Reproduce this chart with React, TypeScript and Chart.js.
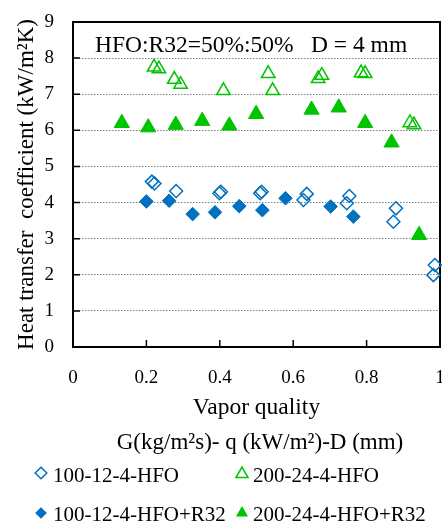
import React, { useEffect, useRef } from 'react';
import { Chart, registerables } from 'chart.js';

Chart.register(...registerables);

const FONT = "'Liberation Serif', 'Times New Roman', serif";
const BLUE = '#0070C0';
const GREEN = '#00C400';

// Series labels
const seriesLabels = ['100-12-4-HFO', '200-24-4-HFO', '100-12-4-HFO+R32', '200-24-4-HFO+R32'];
const legendTitle = 'G(kg/m\u00B2s)- q (kW/m\u00B2)-D (mm)';
const annotationLeft = 'HFO:R32=50%:50%';
const annotationRight = 'D = 4 mm';
const xTitle = 'Vapor quality';
const yTitle = 'Heat transfer  coefficient (kW/m\u00B2K)';

// Axis ticks
const xTicks = [0, 0.2, 0.4, 0.6, 0.8, 1];
const xTickLabels = ['0', '0.2', '0.4', '0.6', '0.8', '1'];
const yTicks = [0, 1, 2, 3, 4, 5, 6, 7, 8, 9];
const yTickLabels = ['0', '1', '2', '3', '4', '5', '6', '7', '8', '9'];

// 100-12-4-HFO (open diamonds)
const hfo100X = [0.215, 0.222, 0.281, 0.399, 0.403, 0.510, 0.514, 0.628, 0.637, 0.746, 0.753, 0.873, 0.880, 0.982, 0.986];
const hfo100Y = [4.58, 4.53, 4.32, 4.26, 4.30, 4.26, 4.30, 4.07, 4.24, 3.98, 4.18, 3.47, 3.84, 1.99, 2.27];

// 200-24-4-HFO (open triangles)
const hfo200X = [0.221, 0.234, 0.276, 0.293, 0.410, 0.532, 0.544, 0.668, 0.678, 0.785, 0.796, 0.918, 0.929];
const hfo200Y = [7.75, 7.70, 7.41, 7.27, 7.10, 7.57, 7.10, 7.43, 7.52, 7.59, 7.57, 6.21, 6.15];

// 100-12-4-HFO+R32 (filled diamonds)
const mix100X = [0.200, 0.262, 0.326, 0.387, 0.453, 0.516, 0.579, 0.702, 0.764];
const mix100Y = [4.03, 4.05, 3.68, 3.73, 3.90, 3.79, 4.12, 3.89, 3.61];

// 200-24-4-HFO+R32 (filled triangles)
const mix200X = [0.133, 0.205, 0.280, 0.352, 0.426, 0.499, 0.650, 0.724, 0.796, 0.868, 0.943];
const mix200Y = [6.20, 6.08, 6.15, 6.26, 6.13, 6.45, 6.57, 6.63, 6.20, 5.66, 3.10];

const toPoints = (xs: number[], ys: number[]) => xs.map((x, i) => ({ x, y: ys[i] }));

function drawMarker(ctx: CanvasRenderingContext2D, shape: string, x: number, y: number, r: number, color: string, filled: boolean) {
  ctx.beginPath();
  if (shape === 'diamond') {
    ctx.moveTo(x, y - r);
    ctx.lineTo(x + r, y);
    ctx.lineTo(x, y + r);
    ctx.lineTo(x - r, y);
  } else {
    ctx.moveTo(x, y - r);
    ctx.lineTo(x + r * 0.866, y + r / 2);
    ctx.lineTo(x - r * 0.866, y + r / 2);
  }
  ctx.closePath();
  if (filled) {
    ctx.fillStyle = color;
    ctx.fill();
  } else {
    ctx.strokeStyle = color;
    ctx.lineWidth = 1.5;
    ctx.stroke();
  }
}

const decorPlugin = {
  id: 'decor',
  beforeDatasetsDraw(chart: any) {
    const { ctx, chartArea: a, scales } = chart;
    ctx.save();
    ctx.strokeStyle = '#000';
    ctx.lineWidth = 2;
    ctx.strokeRect(a.left, a.top, a.right - a.left, a.bottom - a.top);
    ctx.lineWidth = 1.5;
    ctx.beginPath();
    yTicks.forEach((v) => {
      const py = scales.y.getPixelForValue(v);
      ctx.moveTo(a.left, py);
      ctx.lineTo(a.left + 7, py);
    });
    xTicks.forEach((v) => {
      const px = scales.x.getPixelForValue(v);
      ctx.moveTo(px, a.bottom);
      ctx.lineTo(px, a.bottom - 7);
    });
    ctx.stroke();
    ctx.restore();
  },
  afterDraw(chart: any) {
    const { ctx } = chart;
    ctx.save();
    ctx.fillStyle = '#000';
    ctx.textBaseline = 'alphabetic';
    // annotation
    ctx.font = `23.5px ${FONT}`;
    ctx.textAlign = 'left';
    ctx.fillText(annotationLeft, 95, 52);
    ctx.fillText(annotationRight, 311, 52);
    // legend title
    ctx.font = `23px ${FONT}`;
    ctx.textAlign = 'center';
    ctx.fillText(legendTitle, 260, 449);
    // legend items
    ctx.font = `21px ${FONT}`;
    ctx.textAlign = 'left';
    const items = [
      { label: seriesLabels[0], shape: 'diamond', color: BLUE, filled: false, mx: 41, my: 473, tx: 53, ty: 482 },
      { label: seriesLabels[1], shape: 'triangle', color: GREEN, filled: false, mx: 242, my: 474, tx: 253, ty: 482 },
      { label: seriesLabels[2], shape: 'diamond', color: BLUE, filled: true, mx: 41, my: 513, tx: 53, ty: 521 },
      { label: seriesLabels[3], shape: 'triangle', color: GREEN, filled: true, mx: 242, my: 513, tx: 253, ty: 521 },
    ];
    items.forEach((it) => {
      drawMarker(ctx, it.shape, it.mx, it.my, it.shape === 'diamond' ? 5.8 : 7, it.color, it.filled);
      ctx.fillStyle = '#000';
      ctx.fillText(it.label, it.tx, it.ty);
    });
    ctx.restore();
  },
};

export default function App() {
  const ref = useRef<HTMLCanvasElement | null>(null);

  useEffect(() => {
    document.body.style.margin = '0';
    if (!ref.current) return;
    const chart = new Chart(ref.current, {
      type: 'scatter',
      data: {
        datasets: [
          {
            label: seriesLabels[0],
            data: toPoints(hfo100X, hfo100Y),
            pointStyle: 'rectRot',
            pointRadius: 6.5,
            borderWidth: 1.5,
            borderColor: BLUE,
            backgroundColor: 'rgba(0,0,0,0)',
            clip: false,
          },
          {
            label: seriesLabels[1],
            data: toPoints(hfo200X, hfo200Y),
            pointStyle: 'triangle',
            pointRadius: 7.8,
            borderWidth: 1.5,
            borderColor: GREEN,
            backgroundColor: 'rgba(0,0,0,0)',
            clip: false,
          },
          {
            label: seriesLabels[2],
            data: toPoints(mix100X, mix100Y),
            pointStyle: 'rectRot',
            pointRadius: 6.8,
            borderWidth: 1,
            borderColor: BLUE,
            backgroundColor: BLUE,
            clip: false,
          },
          {
            label: seriesLabels[3],
            data: toPoints(mix200X, mix200Y),
            pointStyle: 'triangle',
            pointRadius: 8.8,
            borderWidth: 1,
            borderColor: GREEN,
            backgroundColor: GREEN,
            clip: false,
          },
        ] as any,
      },
      options: {
        animation: false,
        responsive: false,
        layout: { autoPadding: false, padding: { left: 0, right: 2, top: 22, bottom: 101 } },
        plugins: {
          legend: { display: false },
          tooltip: { enabled: false },
        },
        scales: {
          x: {
            type: 'linear',
            min: 0,
            max: 1,
            afterBuildTicks: (s: any) => {
              s.ticks = xTicks.map((v) => ({ value: v }));
            },
            afterFit: (s: any) => {
              s.height = 75;
              s.paddingLeft = 0;
              s.paddingRight = 0;
            },
            ticks: {
              callback: (_v: any, i: number) => xTickLabels[i],
              font: { family: FONT, size: 19 },
              color: '#000',
              padding: 20,
              maxRotation: 0,
            },
            grid: { display: false, drawTicks: false },
            border: { display: false },
            title: {
              display: true,
              text: xTitle,
              font: { family: FONT, size: 23.5 },
              color: '#000',
              padding: { top: 0, bottom: 0 },
            },
          },
          y: {
            type: 'linear',
            min: 0,
            max: 9,
            afterBuildTicks: (s: any) => {
              s.ticks = yTicks.map((v) => ({ value: v }));
            },
            afterFit: (s: any) => {
              s.width = 73;
              s.paddingTop = 0;
              s.paddingBottom = 0;
            },
            ticks: {
              callback: (_v: any, i: number) => yTickLabels[i],
              font: { family: FONT, size: 19 },
              color: '#000',
              padding: 19,
            },
            grid: {
              drawTicks: false,
              lineWidth: 1,
              color: (c: any) => (c.tick && (c.tick.value === 0 || c.tick.value === 9) ? 'rgba(0,0,0,0)' : '#808080'),
            },
            border: { display: false, dash: [1.5, 1.5] },
            title: {
              display: true,
              text: yTitle,
              font: { family: FONT, size: 23 },
              color: '#000',
              padding: { top: 13, bottom: 0 },
            },
          },
        },
      } as any,
      plugins: [decorPlugin],
    });
    return () => chart.destroy();
  }, []);

  return (
    <div style={{ width: 442, height: 523 }}>
      <canvas ref={ref} width={442} height={523} />
    </div>
  );
}
